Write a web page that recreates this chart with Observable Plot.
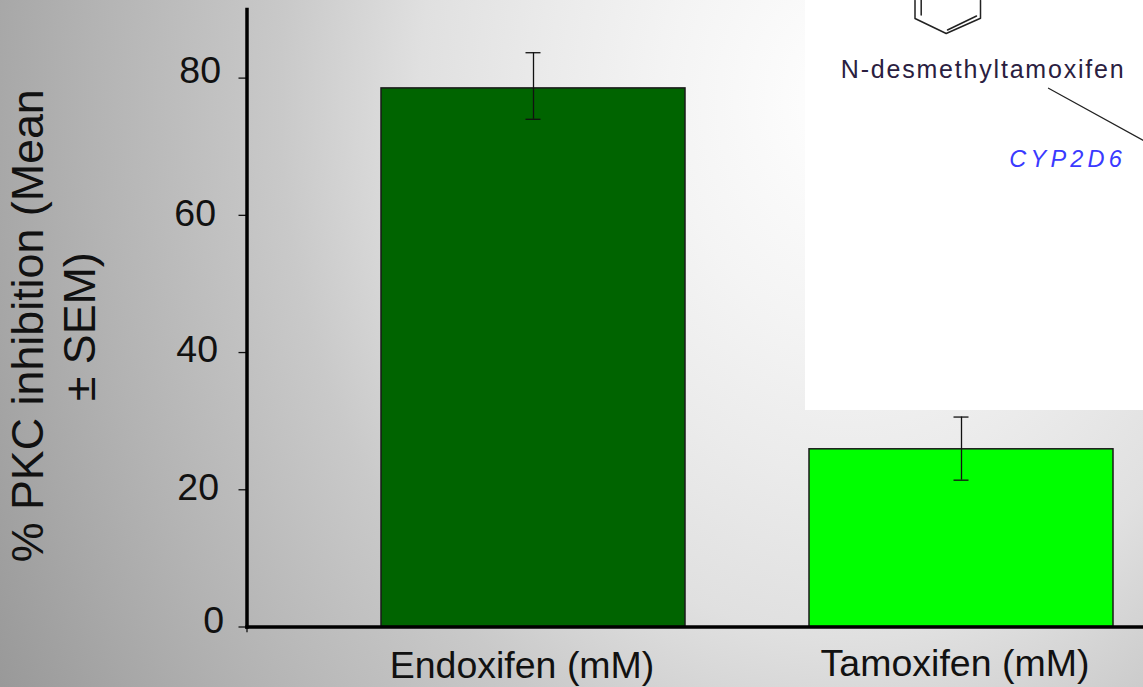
<!DOCTYPE html>
<html><head><meta charset="utf-8">
<script src="https://cdn.jsdelivr.net/npm/d3@7"></script>
<script src="https://cdn.jsdelivr.net/npm/@observablehq/plot@0.6"></script>
<style>
html,body{margin:0;padding:0;overflow:hidden;background:#bbb}
#wrap{position:relative;width:1143px;height:687px;overflow:hidden}
#inset{position:absolute;left:805px;top:0}
.spaced1 text{letter-spacing:1.8px}
.spaced2 text{letter-spacing:4.2px}
</style></head><body><div id="wrap"><div id="chart"></div><div id="inset"></div></div>
<script>
const categories = ["Endoxifen (mM)", "Tamoxifen (mM)"];
const means = [78.5, 25.9];
const errLow = [74.0, 21.4];
const errHigh = [83.7, 30.6];
const barColors = ["#006400", "#00ff00"];
const yTicks = [0, 20, 40, 60, 80];
const yTitle = ["% PKC inhibition (Mean", "± SEM)"];
const rows = categories.map((c, i) => ({c, m: means[i], lo: errLow[i], hi: errHigh[i], col: barColors[i]}));
const font = "'Liberation Sans', Arial, sans-serif";
const ink = "#111111";

const tickLabel = (v, dx, dy) => Plot.axisY([v], {tickSize: 0, tickPadding: 26, tickFormat: d => String(d), fontSize: 37.5, label: null, fill: ink, dx, dy});

const chart = Plot.plot({
  width: 1143, height: 687,
  marginLeft: 246.5, marginRight: 0, marginTop: 9, marginBottom: 60.5,
  style: {background: "radial-gradient(ellipse 1000px 1250px at 850px 100px, #ffffff 0%, #f4f4f4 18%, #ebebeb 30%, #e0e0e0 43%, #c9c9c9 57%, #b3b3b3 76%, #a8a8a8 85%, #999999 97%)", fontFamily: font, color: ink},
  x: {domain: categories, range: [246, 1248.7], paddingInner: 0.29, paddingOuter: 0.315, align: 0.5, axis: null},
  y: {domain: [0, 90], range: [626.5, 9], axis: null},
  marks: [
    Plot.barY(rows, {x: "c", y: "m", fill: d => d.col, stroke: "#1a1a1a", strokeWidth: 1.5}),
    Plot.ruleX(rows, {x: "c", y1: "lo", y2: "hi", stroke: "#111", strokeWidth: 1.3}),
    Plot.tickY(rows, {x: "c", y: "lo", stroke: "#111", strokeWidth: 1.3, insetLeft: 144.5, insetRight: 144.5}),
    Plot.tickY(rows, {x: "c", y: "hi", stroke: "#111", strokeWidth: 1.3, insetLeft: 144.5, insetRight: 144.5}),
    Plot.axisY(yTicks, {tickSize: 8, tickFormat: () => "", label: null, stroke: "#111", strokeWidth: 1.3}),
    Plot.ruleX(categories.slice(0, 1), {y1: 0, y2: -0.85, dx: -286.5, stroke: "#111", strokeWidth: 1.3}),
    tickLabel(80, 0, -7),
    tickLabel(60, -5, -1.5),
    tickLabel(40, -3, -2.5),
    tickLabel(20, -2, -2),
    tickLabel(0, 3, -6),
    Plot.frame({anchor: "left", stroke: "#000", strokeWidth: 3.5}),
    Plot.frame({anchor: "bottom", stroke: "#000", strokeWidth: 3.5}),
    Plot.axisX(categories.slice(0, 1), {tickSize: 0, tickPadding: 24, fontSize: 37.5, label: null, dx: -11.5, fill: ink}),
    Plot.axisX(categories.slice(1), {tickSize: 0, tickPadding: 22, fontSize: 37.5, label: null, dx: -6.5, fill: ink}),
    Plot.text(yTitle.slice(0, 1), {frameAnchor: "left", textAnchor: "middle", rotate: -90, dx: -218, dy: 7.5, fontSize: 44.8, fill: ink}),
    Plot.text(yTitle.slice(1), {frameAnchor: "left", textAnchor: "middle", rotate: -90, dx: -166.5, dy: 8.5, fontSize: 44.8, fill: ink})
  ]
});
document.getElementById("chart").append(chart);

// Inset picture: structure fragment, in the picture's own page coordinates
const ringX = [914.5, 914.5, 945.7, 980, 980];
const ringY = [0, 18, 33, 17.7, 0];
const innerLeftX = [920.7, 920.7];
const innerLeftY = [0, 14.5];
const innerBondX = [947, 976];
const innerBondY = [29.5, 15.5];
const arrowX = [1048, 1143];
const arrowY = [87.7, 140];
const insetLabels = ["N-desmethyltamoxifen", "CYP2D6"];
const pts = (xs, ys) => xs.map((x, i) => ({x, y: ys[i]}));
const inset = Plot.plot({
  width: 338, height: 410, margin: 0,
  style: {background: "#fff", fontFamily: font},
  x: {type: "linear", domain: [805, 1143], range: [0, 338], axis: null},
  y: {type: "linear", domain: [0, 410], range: [0, 410], axis: null},
  marks: [
    Plot.line(pts(ringX, ringY), {x: "x", y: "y", stroke: "#222", strokeWidth: 1.5}),
    Plot.line(pts(innerLeftX, innerLeftY), {x: "x", y: "y", stroke: "#222", strokeWidth: 1.5}),
    Plot.line(pts(innerBondX, innerBondY), {x: "x", y: "y", stroke: "#222", strokeWidth: 1.5}),
    Plot.line(pts(arrowX, arrowY), {x: "x", y: "y", stroke: "#222", strokeWidth: 1.2}),
    Plot.text([insetLabels[0]], {x: () => 1125, y: () => 77, text: d => d, textAnchor: "end", lineAnchor: "bottom", fontSize: 25, fill: "#2a2040", className: "spaced1"}),
    Plot.text([insetLabels[1]], {x: () => 1125.5, y: () => 166, text: d => d, textAnchor: "end", lineAnchor: "bottom", fontSize: 23.5, fontStyle: "italic", fill: "#3a3aff", className: "spaced2"})
  ]
});
document.getElementById("inset").append(inset);
</script></body></html>
